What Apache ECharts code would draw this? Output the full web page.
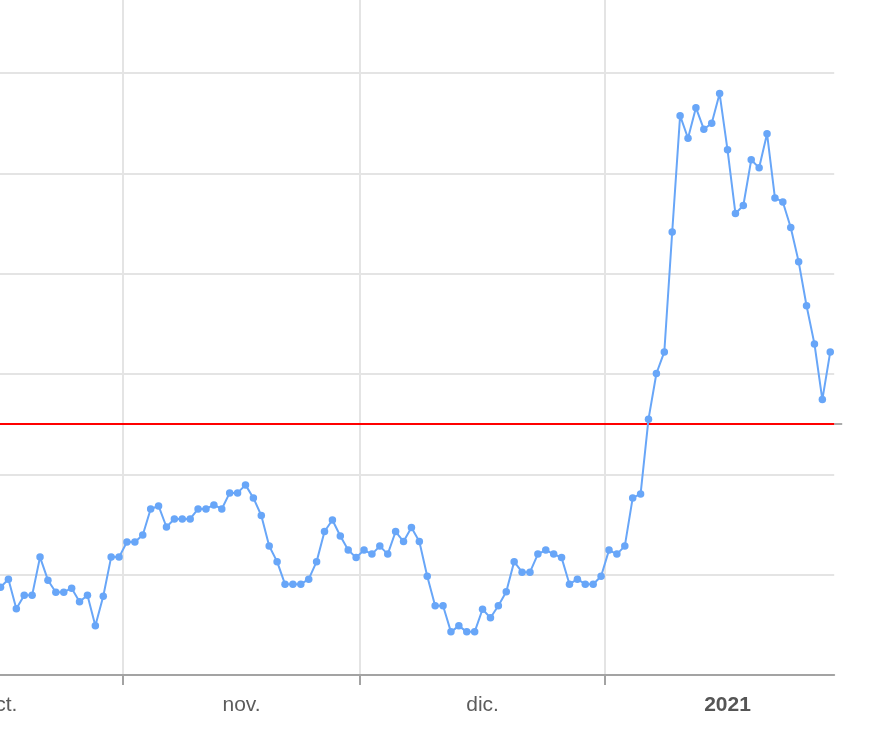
<!DOCTYPE html>
<html>
<head>
<meta charset="utf-8">
<script src="https://cdn.jsdelivr.net/npm/echarts@6/dist/echarts.min.js"></script>
<style>
  html, body { margin: 0; padding: 0; background: #ffffff; overflow: hidden; width: 886px; height: 734px; }
  /* the chart is larger than the window: its left and top parts are cut off, as in the reference */
  #chart { position: absolute; left: -122px; top: -28px; width: 1008px; height: 762px; }
</style>
</head>
<body>
<div id="chart"></div>
<script>
// Day numbers counted from 1 Oct 2020 (day 0)
const axisStartDate = '2020-10-01';
const axisDays = 121;                       // axis runs to 30 Jan 2021 00:00
const monthStartDays = [0, 31, 61, 92];     // 1 oct, 1 nov, 1 dic, 1 ene
const monthLabelDays = [15.5, 46, 76.5, 107.5];
const monthLabels = ['oct.', 'nov.', 'dic.', '2021'];
const yearLabels = ['2021'];

// Daily values from 16 Oct 2020 (day 15) to 29 Jan 2021 (day 120)
const firstDataDay = 15;
const values = [
  0.675, 0.691, 0.632, 0.659, 0.659, 0.735, 0.689, 0.665, 0.665, 0.673,
  0.646, 0.659, 0.598, 0.657, 0.735, 0.735, 0.765, 0.765, 0.779, 0.831,
  0.837, 0.795, 0.811, 0.811, 0.811, 0.831, 0.831, 0.839, 0.831, 0.863,
  0.863, 0.879, 0.853, 0.818, 0.757, 0.726, 0.681, 0.681, 0.681, 0.691,
  0.726, 0.786, 0.809, 0.777, 0.749, 0.734, 0.749, 0.741, 0.757, 0.741,
  0.786, 0.766, 0.794, 0.766, 0.697, 0.638, 0.638, 0.586, 0.598, 0.586,
  0.586, 0.631, 0.614, 0.638, 0.666, 0.726, 0.705, 0.705, 0.741, 0.749,
  0.741, 0.734, 0.681, 0.691, 0.681, 0.681, 0.697, 0.749, 0.741, 0.757,
  0.853, 0.861, 1.010, 1.101, 1.144, 1.383, 1.615, 1.570, 1.631, 1.588,
  1.600, 1.659, 1.547, 1.420, 1.436, 1.527, 1.511, 1.579, 1.451, 1.443,
  1.392, 1.324, 1.236, 1.160, 1.049, 1.144
];
const threshold = 1.0;
const yMin = 0.5, yMax = 1.9, yStep = 0.2;

// each daily reading sits in the middle of its day
const seriesData = values.map((v, i) => [firstDataDay + i + 0.5, v]);

const chart = echarts.init(document.getElementById('chart'), null, { renderer: 'canvas' });
const font = 'Liberation Sans, Arial, sans-serif';

chart.setOption({
  animation: false,
  backgroundColor: '#ffffff',
  grid: { left: 0.04, right: 51.8, top: 0.7, bottom: 59, containLabel: false },
  xAxis: {
    type: 'value',
    min: 0,
    max: axisDays,
    axisLine: { show: true, onZero: false, lineStyle: { color: '#a3a3a3', width: 2 } },
    axisTick: { show: true, length: 10, customValues: monthStartDays, lineStyle: { color: '#a3a3a3', width: 2 } },
    splitLine: { show: true, lineStyle: { color: '#e4e4e4', width: 2 } },
    axisLabel: {
      show: true,
      customValues: monthLabelDays,
      margin: 20,
      color: '#5c5c5c',
      fontSize: 21,
      fontFamily: font,
      formatter: function (v) {
        const idx = monthLabelDays.indexOf(v);
        const t = idx >= 0 ? monthLabels[idx] : '';
        return yearLabels.indexOf(t) >= 0 ? '{b|' + t + '}' : t;
      },
      rich: { b: { fontWeight: 'bold', fontSize: 21, fontFamily: font, color: '#555555' } }
    }
  },
  yAxis: [
    {
      type: 'value',
      min: yMin, max: yMax, interval: yStep,
      axisLine: { show: false },
      axisTick: { show: false },
      axisLabel: { show: false },
      splitLine: { show: true, lineStyle: { color: '#e4e4e4', width: 2 } }
    },
    {
      type: 'value',
      position: 'right',
      min: yMin, max: yMax,
      axisLine: { show: false },
      axisTick: { show: true, length: 8, customValues: [threshold], lineStyle: { color: '#aaaaaa', width: 2 } },
      axisLabel: { show: false },
      splitLine: { show: false }
    }
  ],
  series: [
    {
      type: 'line',
      data: [],
      silent: true,
      markLine: {
        silent: true,
        symbol: ['none', 'none'],
        label: { show: false },
        lineStyle: { color: '#ff0000', width: 2, type: 'solid' },
        data: [{ yAxis: threshold }]
      }
    },
    {
      type: 'line',
      data: seriesData,
      symbol: 'circle',
      symbolSize: 7.5,
      showAllSymbol: true,
      lineStyle: { color: '#68a6f8', width: 2 },
      itemStyle: { color: '#68a6f8' },
      z: 5
    }
  ]
});
</script>
</body>
</html>
